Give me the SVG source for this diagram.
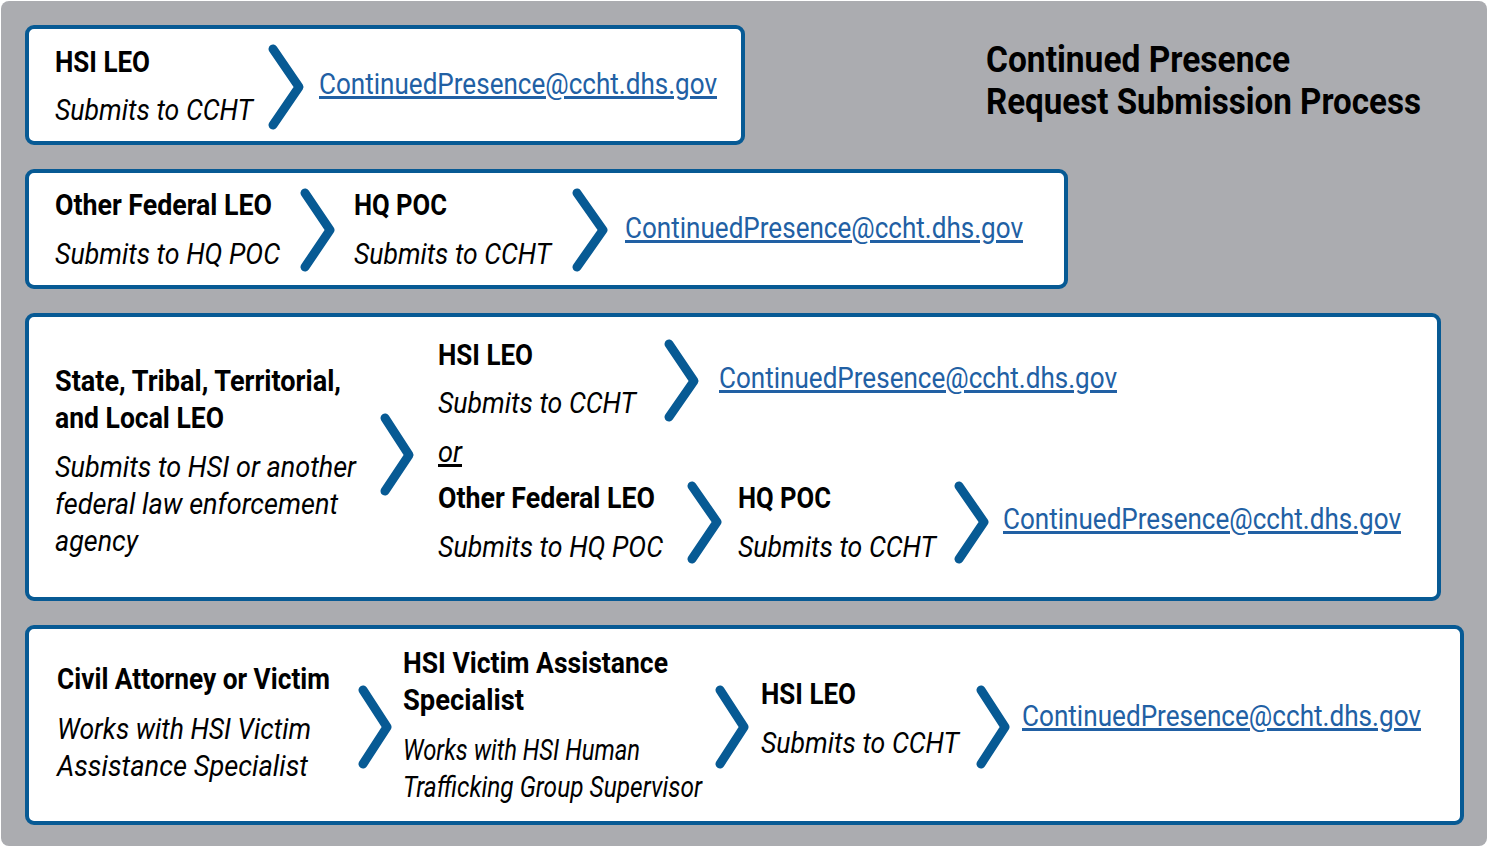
<svg xmlns="http://www.w3.org/2000/svg" width="1487" height="846" viewBox="0 0 1487 846">
<style>
.box{fill:#fff;stroke:#075a94;stroke-width:4}
.chev{fill:none;stroke:#075a94;stroke-width:9;stroke-linecap:round;stroke-linejoin:round}
.b{font-family:Roboto,"Liberation Sans",sans-serif;font-weight:bold;font-size:30px;fill:#000}
.i{font-family:Roboto,"Liberation Sans",sans-serif;font-style:italic;font-size:30px;fill:#000}
.e{font-family:Roboto,"Liberation Sans",sans-serif;font-size:30px;fill:#2160a4;text-decoration:underline}
.t{font-family:Roboto,"Liberation Sans",sans-serif;font-weight:bold;font-size:37px;fill:#000}
</style>
<rect width="1487" height="846" fill="#fff"/>
<rect x="1" y="1" width="1486" height="845" rx="8" fill="#abacb0"/>
<g id="title">
<text class="t" x="986" y="72" textLength="304" lengthAdjust="spacingAndGlyphs">Continued Presence</text>
<text class="t" x="986" y="114" textLength="435" lengthAdjust="spacingAndGlyphs">Request Submission Process</text>
</g>
<g id="row1">
<rect class="box" x="27" y="27" width="716" height="116" rx="7"/>
<g id="r1-hsi"><text class="b" x="55" y="72" textLength="95" lengthAdjust="spacingAndGlyphs">HSI LEO</text>
<text class="i" x="55" y="120" textLength="198" lengthAdjust="spacingAndGlyphs">Submits to CCHT</text></g>
<g id="r1-email"><text class="e" x="319" y="94" textLength="398" lengthAdjust="spacingAndGlyphs">ContinuedPresence@ccht.dhs.gov</text></g>
</g>
<g id="row2">
<rect class="box" x="27" y="171" width="1039" height="116" rx="7"/>
<g id="r2-ofl"><text class="b" x="55" y="215" textLength="217" lengthAdjust="spacingAndGlyphs">Other Federal LEO</text>
<text class="i" x="55" y="264" textLength="225" lengthAdjust="spacingAndGlyphs">Submits to HQ POC</text></g>
<g id="r2-hq"><text class="b" x="354" y="215" textLength="93" lengthAdjust="spacingAndGlyphs">HQ POC</text>
<text class="i" x="354" y="264" textLength="197" lengthAdjust="spacingAndGlyphs">Submits to CCHT</text></g>
<g id="r2-email"><text class="e" x="625" y="238" textLength="398" lengthAdjust="spacingAndGlyphs">ContinuedPresence@ccht.dhs.gov</text></g>
</g>
<g id="row3">
<rect class="box" x="27" y="315" width="1412" height="284" rx="7"/>
<g id="r3-state"><text class="b" x="55" y="391" textLength="286" lengthAdjust="spacingAndGlyphs">State, Tribal, Territorial,</text>
<text class="b" x="55" y="428" textLength="169" lengthAdjust="spacingAndGlyphs">and Local LEO</text>
<text class="i" x="55" y="477" textLength="301" lengthAdjust="spacingAndGlyphs">Submits to HSI or another</text>
<text class="i" x="55" y="514" textLength="283" lengthAdjust="spacingAndGlyphs">federal law enforcement</text>
<text class="i" x="55" y="551" textLength="83" lengthAdjust="spacingAndGlyphs">agency</text></g>
<g id="r3-hsi"><text class="b" x="438" y="365" textLength="95" lengthAdjust="spacingAndGlyphs">HSI LEO</text>
<text class="i" x="438" y="413" textLength="198" lengthAdjust="spacingAndGlyphs">Submits to CCHT</text></g>
<g id="r3-or"><text class="i" x="438" y="462" textLength="24" lengthAdjust="spacingAndGlyphs" text-decoration="underline">or</text></g>
<g id="r3-email1"><text class="e" x="719" y="388" textLength="398" lengthAdjust="spacingAndGlyphs">ContinuedPresence@ccht.dhs.gov</text></g>
<g id="r3-ofl"><text class="b" x="438" y="508" textLength="217" lengthAdjust="spacingAndGlyphs">Other Federal LEO</text>
<text class="i" x="438" y="557" textLength="225" lengthAdjust="spacingAndGlyphs">Submits to HQ POC</text></g>
<g id="r3-hq"><text class="b" x="738" y="508" textLength="93" lengthAdjust="spacingAndGlyphs">HQ POC</text>
<text class="i" x="738" y="557" textLength="198" lengthAdjust="spacingAndGlyphs">Submits to CCHT</text></g>
<g id="r3-email2"><text class="e" x="1003" y="529" textLength="398" lengthAdjust="spacingAndGlyphs">ContinuedPresence@ccht.dhs.gov</text></g>
</g>
<g id="row4">
<rect class="box" x="27" y="627" width="1435" height="196" rx="7"/>
<g id="r4-civil"><text class="b" x="57" y="689" textLength="273" lengthAdjust="spacingAndGlyphs">Civil Attorney or Victim</text>
<text class="i" x="57" y="739" textLength="254" lengthAdjust="spacingAndGlyphs">Works with HSI Victim</text>
<text class="i" x="57" y="776" textLength="251" lengthAdjust="spacingAndGlyphs">Assistance Specialist</text></g>
<g id="r4-vas"><text class="b" x="403" y="673" textLength="265" lengthAdjust="spacingAndGlyphs">HSI Victim Assistance</text>
<text class="b" x="403" y="710" textLength="121" lengthAdjust="spacingAndGlyphs">Specialist</text>
<text class="i" x="403" y="760" textLength="237" lengthAdjust="spacingAndGlyphs" font-size="27">Works with HSI Human</text>
<text class="i" x="403" y="797" textLength="299" lengthAdjust="spacingAndGlyphs" font-size="27">Trafficking Group Supervisor</text></g>
<g id="r4-hsi"><text class="b" x="761" y="704" textLength="95" lengthAdjust="spacingAndGlyphs">HSI LEO</text>
<text class="i" x="761" y="753" textLength="198" lengthAdjust="spacingAndGlyphs">Submits to CCHT</text></g>
<g id="r4-email"><text class="e" x="1022" y="726" textLength="399" lengthAdjust="spacingAndGlyphs">ContinuedPresence@ccht.dhs.gov</text></g>
</g>
<g id="connectors">
<polyline class="chev" points="273,49 299,87 273,125"/>
<polyline class="chev" points="305,193 330,230 305,267"/>
<polyline class="chev" points="577,193 603,230 577,267"/>
<polyline class="chev" points="385,418 409,455 385,491"/>
<polyline class="chev" points="669,344 694,381 669,417"/>
<polyline class="chev" points="692,486 717,522 692,559"/>
<polyline class="chev" points="959,486 984,522 959,559"/>
<polyline class="chev" points="363,690 387,727 363,764"/>
<polyline class="chev" points="720,690 744,727 720,764"/>
<polyline class="chev" points="981,690 1005,727 981,764"/>
</g>
</svg>
